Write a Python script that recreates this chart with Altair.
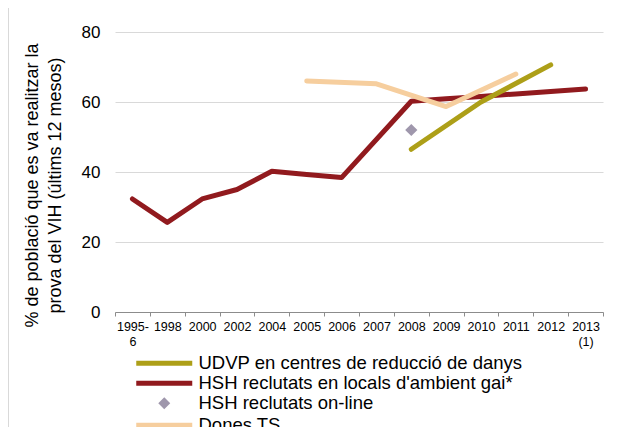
import altair as alt
import pandas as pd

categories = ["1995-6", "1998", "2000", "2002", "2004", "2005", "2006", "2007",
              "2008", "2009", "2010", "2011", "2012", "2013 (1)"]

series_names = ["UDVP en centres de reducció de danys",
                "HSH reclutats en locals d'ambient gai*",
                "HSH reclutats on-line",
                "Dones TS"]
series_colors = ["#AD9F18", "#911A1E", "#9F97AC", "#F6CE9E"]

udvp = [None, None, None, None, None, None, None, None, 46.5, None, 60.0, None, 70.6, None]
hsh_gai = [32.3, 25.6, 32.3, 35.0, 40.2, 39.3, 38.4, None, 60.2, 60.9, 61.6, 62.3, 63.0, 63.7]
hsh_online = [None, None, None, None, None, None, None, None, 52.0, None, None, None, None, None]
dones_ts = [None, None, None, None, None, 66.0, None, 65.2, None, 58.7, None, 68.0, None, None]

y_ticks = [0, 20, 40, 60, 80]
y_title = ["% de població que es va realitzar la", "prova del VIH (últims 12 mesos)"]

rows = []
for name, vals in zip(series_names, [udvp, hsh_gai, hsh_online, dones_ts]):
    for c, v in zip(categories, vals):
        if v is not None:
            rows.append({"cat": c, "value": v, "series": name})
df = pd.DataFrame(rows)

FONT = "Liberation Sans"
ONLINE = series_names[2]

LINE_SYM = "M-8,0H8"
DIAMOND_SYM = "M0,-0.7L0.7,0L0,0.7L-0.7,0Z"
legend_shapes = [LINE_SYM, LINE_SYM, DIAMOND_SYM, LINE_SYM]

color_scale = alt.Scale(domain=series_names, range=series_colors)
shape_scale = alt.Scale(domain=series_names, range=legend_shapes)

legend = alt.Legend(
    orient="none", legendX=40, legendY=322, title=None, padding=0,
    direction="vertical", labelFont=FONT, labelFontSize=18.5, labelColor="#000000",
    symbolSize=49, symbolStrokeWidth=5, labelOffset=25, rowPadding=-5.3,
    symbolOpacity=1, labelLimit=0,
)

x_enc = alt.X(
    "cat:N", sort=categories,
    scale=alt.Scale(type="band", domain=categories, paddingInner=0, paddingOuter=0),
    bandPosition=0.5,
    axis=alt.Axis(
        title=None, tickBand="extent", labelAngle=0, labelFont=FONT, labelFontSize=12.5,
        labelColor="#000000", domainColor="#8C8C8C", tickColor="#8C8C8C", tickSize=4,
        labelPadding=4, labelOverlap=False, labelBaseline="top", labelLineHeight=15,
        labelExpr="datum.label == '1995-6' ? ['1995-', '6'] : datum.label == '2013 (1)' ? ['2013', '(1)'] : datum.label",
        grid=False,
    ),
)

y_enc = alt.Y(
    "value:Q",
    scale=alt.Scale(domain=[0, 80], nice=False, zero=True),
    axis=alt.Axis(
        values=y_ticks, grid=True, gridColor="#D9D9D9", gridWidth=1, domain=False,
        ticks=False, labelFont=FONT, labelFontSize=17, labelColor="#000000", labelPadding=15,
        title=y_title, titleFont=FONT, titleFontSize=18, titleFontWeight="normal",
        titleColor="#000000", titleX=-83, titleY=153, titleAngle=270,
        titleBaseline="middle", titleAlign="center", titleLineHeight=23,
    ),
)

base = alt.Chart(df)

line_order = [series_names[1], series_names[3], series_names[0]]
layers = []
for name in line_order:
    layers.append(
        base.transform_filter(alt.datum.series == name)
        .mark_line(strokeWidth=5, strokeCap="round", strokeJoin="round")
        .encode(x=x_enc, y=y_enc,
                color=alt.Color("series:N", scale=color_scale, legend=None))
    )

points = (
    base.transform_filter(alt.datum.series == ONLINE)
    .mark_point(shape="diamond", filled=True, size=150, opacity=1)
    .encode(x=x_enc, y=y_enc, color=alt.Color("series:N", scale=color_scale, legend=None))
)

# empty layer that only carries the legend (color + shape merged)
legend_layer = (
    base.transform_filter(alt.datum.value < -1000)
    .mark_point(filled=False, strokeWidth=5)
    .encode(x=x_enc, y=y_enc,
            color=alt.Color("series:N", scale=color_scale, legend=legend),
            shape=alt.Shape("series:N", scale=shape_scale, legend=legend))
)

frame_left = base.mark_rule(color="#D9D9D9", strokeWidth=1).encode(
    x=alt.value(-106.5), y=alt.value(-24), y2=alt.value(395)
)

chart = (
    alt.layer(frame_left, *layers, points, legend_layer)
    .resolve_legend(color="independent", shape="independent")
    .properties(
        width=488, height=280,
        padding={"left": 107, "top": 24, "right": 10, "bottom": 115},
        autosize=alt.AutoSizeParams(type="none"),
        background="white",
    )
    .configure_view(stroke=None)
)

chart.save("out.html", embed_options={"renderer": "svg", "actions": False})
